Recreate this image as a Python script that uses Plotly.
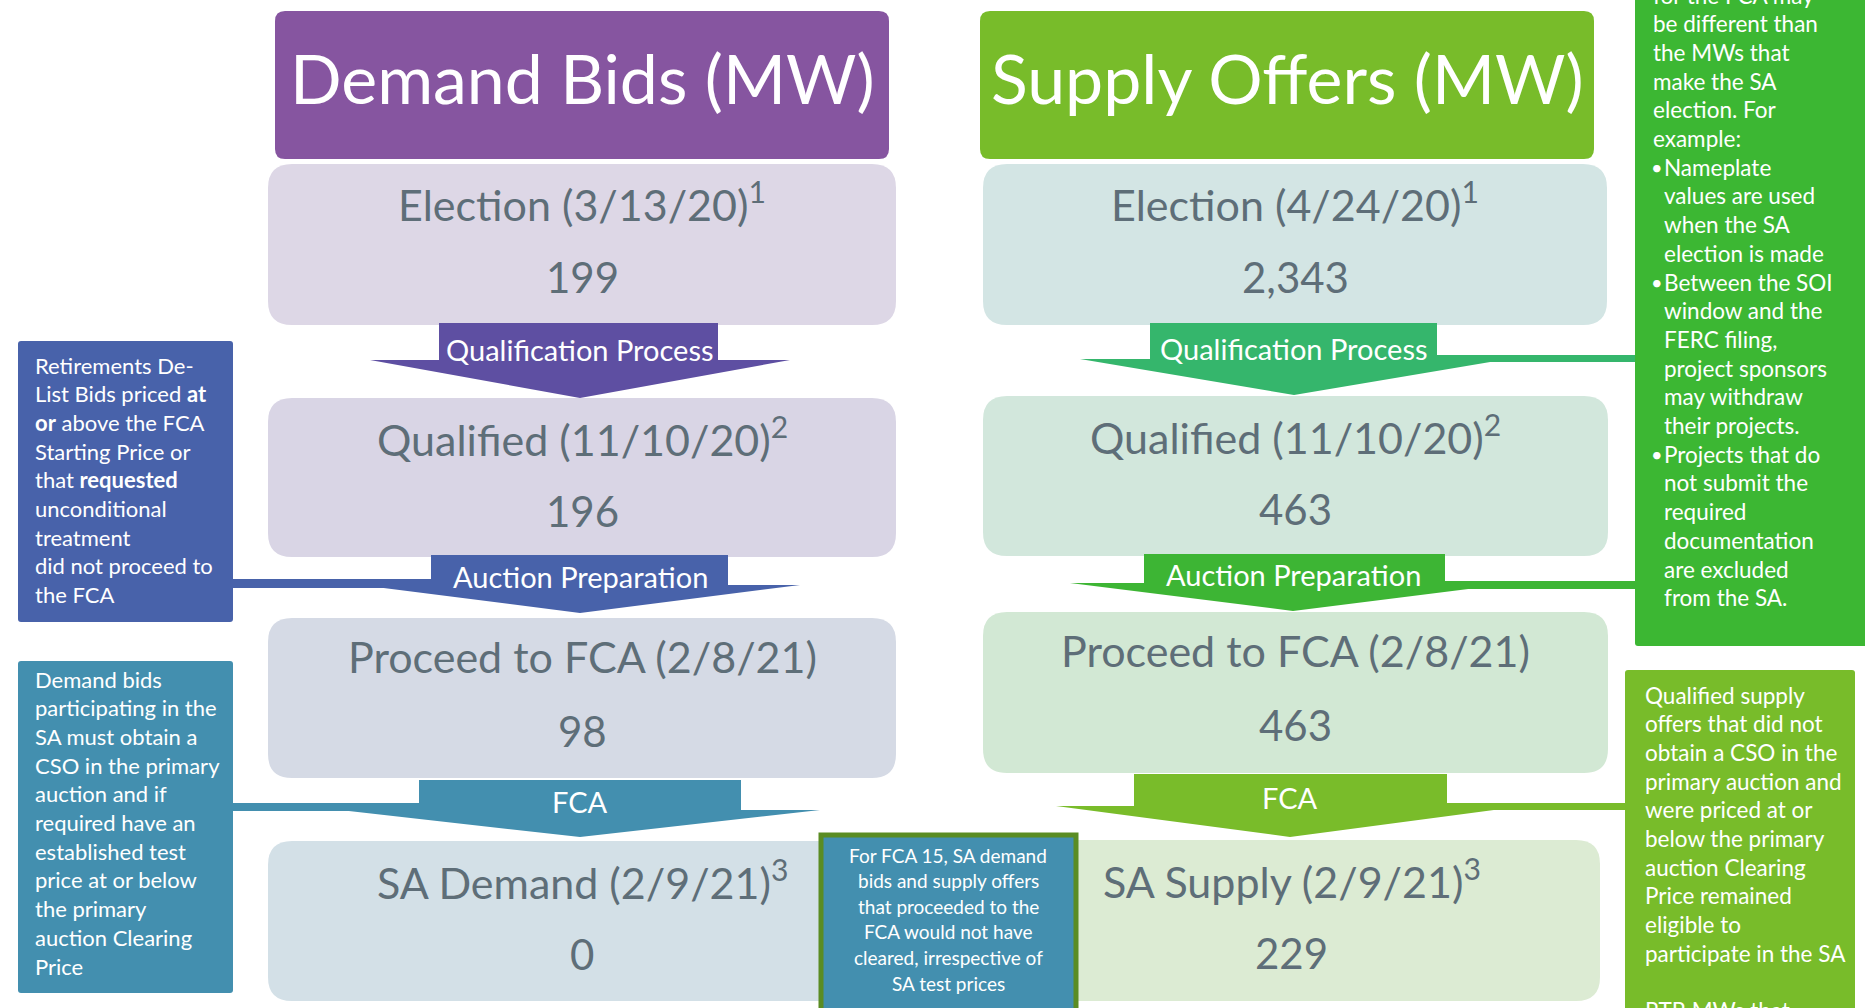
import plotly.graph_objects as go

# ---------------- data ----------------
column_titles = ["Demand Bids (MW)", "Supply Offers (MW)"]
demand_stages = ["Election (3/13/20)", "Qualified (11/10/20)", "Proceed to FCA (2/8/21)", "SA Demand (2/9/21)"]
supply_stages = ["Election (4/24/20)", "Qualified (11/10/20)", "Proceed to FCA (2/8/21)", "SA Supply (2/9/21)"]
stage_footnotes = ["1", "2", "", "3"]
demand_mw = [199, 196, 98, 0]
supply_mw = [2343, 463, 463, 229]
transitions = ["Qualification Process", "Auction Preparation", "FCA"]

note_retirements = ["Retirements De-", "List Bids priced <b>at</b>", "<b>or</b> above the FCA",
                    "Starting Price or", "that <b>requested</b>", "unconditional", "treatment",
                    "did not proceed to", "the FCA"]
note_demand_sa = ["Demand bids", "participating in the", "SA must obtain a", "CSO in the primary",
                  "auction and if", "required have an", "established test", "price at or below",
                  "the primary", "auction Clearing", "Price"]
note_supply_mw = ["for the FCA may", "be different than", "the MWs that", "make the SA",
                  "election. For", "example:", "•Nameplate", "values are used", "when the SA",
                  "election is made", "•Between the SOI", "window and the", "FERC filing,",
                  "project sponsors", "may withdraw", "their projects.", "•Projects that do",
                  "not submit the", "required", "documentation", "are excluded", "from the SA."]
note_supply_sa = ["Qualified supply", "offers that did not", "obtain a CSO in the",
                  "primary auction and", "were priced at or", "below the primary",
                  "auction Clearing", "Price remained", "eligible to", "participate in the SA",
                  "", "RTR MWs that"]
note_fca15 = ["For FCA 15, SA demand", "bids and supply offers", "that proceeded to the",
              "FCA would not have", "cleared, irrespective of", "SA test prices"]

# ---------------- style / layout ----------------
W, H = 1865, 1008
FONT = "Lato, Carlito, Calibri, 'Open Sans', sans-serif"
TXT = "#5E6E78"

header_colors = ["#8655A0", "#78BC2A"]
demand_box_colors = ["#DDD7E6", "#D9D5E5", "#D5DAE5", "#D3E0E7"]
supply_box_colors = ["#D3E5E4", "#D2E7DC", "#D2E8D4", "#DCEBD3"]
demand_arrow_colors = ["#5E4FA2", "#4862AA", "#438FAF"]
supply_arrow_colors = ["#35B66C", "#3DB534", "#79BC2A"]

cols = [
    dict(hx=(275, 889), bx=[(268, 896)] * 4,
         by=[(164, 325), (398, 557), (618, 778), (841, 1001)]),
    dict(hx=(980, 1594), bx=[(983, 1607), (983, 1608), (983, 1608), (983, 1600)],
         by=[(164, 325), (396, 556), (612, 773), (840, 1001)]),
]
header_y = (11, 159)

# arrows: cx, rect x0,x1, top, shoulder, half width, tip, connector (x0, x1, y0, y1) or None
demand_arrows = [
    (580, 439, 718, 323, 360, 210, 398, None),
    (580, 431, 728, 555, 585, 220, 613, (233, 440, 579, 588)),
    (580, 419, 741, 780, 810, 240, 837, (233, 430, 803, 811)),
]
supply_arrows = [
    (1294, 1150, 1437, 323, 359, 214, 395, (1430, 1636, 355, 362)),
    (1293, 1144, 1445, 554, 583, 223, 611, (1440, 1636, 581, 589)),
    (1290, 1134, 1447, 774, 806, 234, 837, (1440, 1626, 803, 810)),
]


def rrect(x0, y0, x1, y1, r):
    return (f"M{x0+r},{y0} L{x1-r},{y0} Q{x1},{y0} {x1},{y0+r} L{x1},{y1-r} "
            f"Q{x1},{y1} {x1-r},{y1} L{x0+r},{y1} Q{x0},{y1} {x0},{y1-r} "
            f"L{x0},{y0+r} Q{x0},{y0} {x0+r},{y0} Z")


shapes = []
annotations = []


def add_path(path, fill, line_color=None, line_width=0):
    shapes.append(dict(type="path", path=path, xref="x", yref="y", fillcolor=fill,
                       line=dict(color=line_color or fill, width=line_width), layer="above"))


def add_text(x, y, text, size, color="white", xanchor="center"):
    # paper coordinates so that texts partly outside the canvas are still drawn (clipped)
    annotations.append(dict(x=x / W, y=1 - y / H, xref="paper", yref="paper", text=text,
                            showarrow=False, xanchor=xanchor, yanchor="middle",
                            font=dict(family=FONT, size=size, color=color)))


# column headers and stage boxes
for ci, (col, stages, values, box_cols) in enumerate([
        (cols[0], demand_stages, demand_mw, demand_box_colors),
        (cols[1], supply_stages, supply_mw, supply_box_colors)]):
    hx0, hx1 = col["hx"]
    add_path(rrect(hx0, header_y[0], hx1, header_y[1], 10), header_colors[ci])
    add_text((hx0 + hx1) / 2, 78, column_titles[ci], 68)
    for si in range(4):
        x0, x1 = col["bx"][si]
        y0, y1 = col["by"][si]
        add_path(rrect(x0, y0, x1, y1, 24), box_cols[si])
        lab = stages[si] + (f"<sup>{stage_footnotes[si]}</sup>" if stage_footnotes[si] else "")
        add_text((x0 + x1) / 2, y0 + 38, lab, 43, TXT)
        add_text((x0 + x1) / 2, y0 + 113, f"{values[si]:,}", 42, TXT)

# transition arrows
for arrows, colors in [(demand_arrows, demand_arrow_colors), (supply_arrows, supply_arrow_colors)]:
    for ti, (cx, rx0, rx1, top, sh, hw, tip, conn) in enumerate(arrows):
        c = colors[ti]
        add_path(f"M{rx0},{top} L{rx1},{top} L{rx1},{sh} L{cx+hw},{sh} L{cx},{tip} "
                 f"L{cx-hw},{sh} L{rx0},{sh} Z", c)
        if conn:
            a0, a1, b0, b1 = conn
            add_path(f"M{a0},{b0} L{a1},{b0} L{a1},{b1} L{a0},{b1} Z", c)
        add_text(cx, top + 0.72 * (sh - top), transitions[ti], 29)

# side note boxes
add_path(rrect(18, 341, 233, 622, 3), "#4862AA")
add_path(rrect(18, 661, 233, 993, 3), "#438FAF")
add_path(rrect(1635, -10, 1875, 646, 3), "#3CB733")
add_path(rrect(1625, 670, 1855, 1030, 3), "#78BC2A")

for i, t in enumerate(note_retirements):
    add_text(33, 365 + i * 28.7, t, 22, xanchor="left")
for i, t in enumerate(note_demand_sa):
    add_text(33, 679 + i * 28.7, t, 22, xanchor="left")
for i, t in enumerate(note_supply_mw):
    y = -5 + i * 28.7
    if t.startswith("•"):
        add_text(1649, y, "•", 20, xanchor="left")
        add_text(1662, y, t[1:], 22.5, xanchor="left")
    else:
        x = 1651 if i < 6 else 1662
        add_text(x, y, t, 22.5, xanchor="left")
for i, t in enumerate(note_supply_sa):
    if t:
        add_text(1643, 695 + i * 28.7, t, 22.5, xanchor="left")

# middle note box
add_path("M821,835 L1076,835 L1076,1015 L821,1015 Z", "#438FAF", "#5A8C23", 5)
for i, t in enumerate(note_fca15):
    add_text(948, 855 + i * 25.6, t, 19)

fig = go.Figure()
fig.update_layout(
    width=W, height=H, margin=dict(l=0, r=0, t=0, b=0),
    paper_bgcolor="white", plot_bgcolor="white",
    xaxis=dict(range=[0, W], visible=False, fixedrange=True),
    yaxis=dict(range=[H, 0], visible=False, fixedrange=True),
    shapes=shapes, annotations=annotations, showlegend=False,
)
fig.write_html("out.html", config={"displayModeBar": False},
               post_script="document.body.style.margin='0';document.body.style.overflow='hidden';")
